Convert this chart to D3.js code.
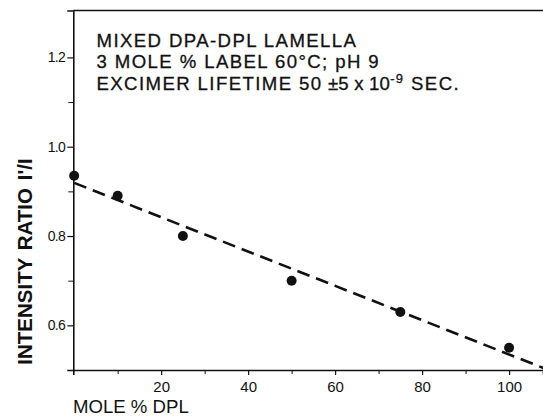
<!DOCTYPE html>
<html>
<head>
<meta charset="utf-8">
<script src="https://cdn.jsdelivr.net/npm/d3@7/dist/d3.min.js"></script>
<style>
  html, body { margin: 0; padding: 0; background: #fff; }
  svg { display: block; }
  text { font-family: "Liberation Sans", Arial, sans-serif; fill: #111; }
</style>
</head>
<body>
<svg id="chart" width="543" height="417"></svg>
<script>
// Measured points: intensity ratio I'/I against mole % DPL
const moleDPL = [0, 10, 25, 50, 75, 100];
const ratio = [0.935, 0.89, 0.80, 0.70, 0.63, 0.55];

// Least-squares trend drawn as a dashed line
const fitX = [0, 108];
const fitY = [0.919, 0.504];

// Axis ticks
const xMajor = [20, 40, 60, 80, 100];
const xMinor = [10, 30, 50, 70, 90];
const yMajor = [0.6, 0.8, 1.0, 1.2];
const yMinor = [0.7, 0.9, 1.1];

const noteLines = [
  "MIXED DPA-DPL LAMELLA",
  "3 MOLE % LABEL 60°C; pH 9"
];

const svg = d3.select("#chart");
const x = d3.scaleLinear().domain([-0.2, 107.8]).range([73.3, 543]);
const y = d3.scaleLinear().domain([0.5, 1.305]).range([370, 10.5]);

const ink = "#111";

// Axes with outward ticks
const xAxis = d3.axisBottom(x).tickValues(xMajor).tickSize(5).tickPadding(6)
  .tickFormat(d3.format("d"));
svg.append("g").attr("transform", `translate(0,${y(0.5)})`).call(xAxis)
  .call(g => g.select(".domain").attr("stroke", ink).attr("stroke-width", 1.6))
  .call(g => g.selectAll(".tick line").attr("stroke", ink).attr("stroke-width", 1.2))
  .call(g => g.selectAll(".tick text").attr("font-size", 15).attr("font-family", "Liberation Sans, Arial, sans-serif").attr("fill", ink));
svg.append("g").attr("transform", `translate(0,${y(0.5)})`)
  .call(d3.axisBottom(x).tickValues(xMinor).tickSize(4).tickFormat(""))
  .call(g => g.select(".domain").remove())
  .call(g => g.selectAll(".tick line").attr("stroke", ink).attr("stroke-width", 1));

const yAxis = d3.axisLeft(y).tickValues(yMajor).tickSize(6).tickPadding(2)
  .tickFormat(d3.format(".1f"));
svg.append("g").attr("transform", `translate(${x(-0.2)},0)`).call(yAxis)
  .call(g => g.select(".domain").attr("stroke", ink).attr("stroke-width", 1.6))
  .call(g => g.selectAll(".tick line").attr("stroke", ink).attr("stroke-width", 1.2))
  .call(g => g.selectAll(".tick text").attr("font-size", 14).attr("letter-spacing", -0.6).attr("font-family", "Liberation Sans, Arial, sans-serif").attr("fill", ink));
svg.append("g").attr("transform", `translate(${x(-0.2)},0)`)
  .call(d3.axisLeft(y).tickValues(yMinor).tickSize(5).tickFormat(""))
  .call(g => g.select(".domain").remove())
  .call(g => g.selectAll(".tick line").attr("stroke", ink).attr("stroke-width", 1));

// Top frame line
svg.append("line")
  .attr("x1", x(-0.2)).attr("x2", x(107.8))
  .attr("y1", y(1.305)).attr("y2", y(1.305))
  .attr("stroke", ink).attr("stroke-width", 1.6);

// Dashed trend line
svg.append("path")
  .datum(fitX.map((v, i) => [v, fitY[i]]))
  .attr("fill", "none").attr("stroke", ink).attr("stroke-width", 2.6)
  .attr("stroke-dasharray", "13,7")
  .attr("d", d3.line().x(d => x(d[0])).y(d => y(d[1])));

// Data points
svg.append("g").selectAll("circle")
  .data(moleDPL.map((v, i) => [v, ratio[i]]))
  .join("circle")
  .attr("cx", d => x(d[0])).attr("cy", d => y(d[1]))
  .attr("r", 5).attr("fill", ink);

// Annotation block
const note = svg.append("text").attr("x", 96.5).attr("y", 46.7)
  .attr("font-size", 18.6).attr("letter-spacing", 1.4)
  .attr("stroke", ink).attr("stroke-width", 0.3);
noteLines.forEach((t, i) => {
  note.append("tspan").attr("x", 96.5).attr("dy", i === 0 ? 0 : 21.6).text(t);
});
const l3 = note.append("tspan").attr("x", 96.5).attr("dy", 21.6);
l3.append("tspan").text("EXCIMER LIFETIME 50");
l3.append("tspan").attr("letter-spacing", 0.2).text(" ±5 x 10");
l3.append("tspan").attr("font-size", 13).attr("dy", -7).text("-9");
l3.append("tspan").attr("dy", 7).text(" SEC.");

// Axis titles
svg.append("text").attr("x", 73).attr("y", 413.3)
  .attr("font-size", 18.6).text("MOLE % DPL");
svg.append("text")
  .attr("transform", "translate(32,261.5) rotate(-90)")
  .attr("text-anchor", "middle")
  .attr("font-size", 20.5).attr("font-weight", "bold")
  .attr("word-spacing", 2)
  .text("INTENSITY RATIO I'/I");
</script>
</body>
</html>
